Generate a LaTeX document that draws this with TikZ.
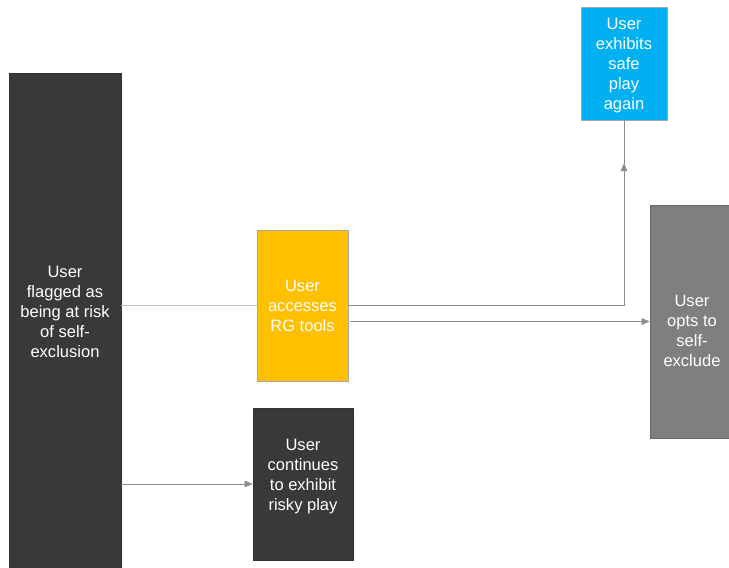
\documentclass[tikz,border=0pt]{standalone}
\usepackage{fontspec}
\setmainfont{Liberation Sans}
\usetikzlibrary{positioning,arrows.meta,decorations.markings}

\definecolor{darkbox}{HTML}{3B3838}
\definecolor{rgorange}{HTML}{FFC000}
\definecolor{safecyan}{HTML}{00B0F0}
\definecolor{optgrey}{HTML}{7F7F7F}
\definecolor{linegrey}{HTML}{8C8C8C}
\definecolor{lightline}{HTML}{BFBFBF}

\tikzset{
  box/.style={draw, line width=0.6pt, text=white, align=center,
    font=\fontsize{12.4pt}{15pt}\selectfont, inner sep=0pt},
  boxtext/.style={text=white, align=center,
    font=\fontsize{12.4pt}{15pt}\selectfont},
  arrline/.style={draw=linegrey, line width=0.75pt,
    -{Triangle[length=6pt,width=5pt]}},
}

\begin{document}
\begin{tikzpicture}[x=0.75pt,y=-0.75pt]
  \useasboundingbox (0,0) rectangle (729,568);
  \clip (0,0) rectangle (729,568);
  % flagged
  \node[box, fill=darkbox, draw=black!80, minimum width=84pt, minimum height=410pt,
    label={[boxtext, yshift=26pt]center:User\\flagged as\\being at risk\\of self-\\exclusion}]
    (flag) at (65,346.5) {};
  % RG tools
  \node[box, fill=rgorange, draw=black!35, minimum width=68.25pt, minimum height=113.25pt]
    (rg) at (302.5,305.5) {User\\accesses\\RG tools};
  % risky play
  \node[box, fill=darkbox, draw=black!80, minimum width=75pt, minimum height=114pt,
    label={[boxtext, yshift=5.3pt]center:User\\continues\\to exhibit\\risky play}]
    (risky) at (303,484) {};
  % safe play
  \node[box, fill=safecyan, draw=black!35, minimum width=64.5pt, minimum height=84.75pt,
    label={[boxtext, yshift=-1.2pt]center:User\\exhibits\\safe\\play\\again}]
    (safe) at (624,63.5) {};
  % self-exclude
  \node[box, fill=optgrey, draw=black!60, minimum width=63pt, minimum height=174.75pt,
    label={[boxtext, yshift=-7.1pt]center:User\\opts to\\self-\\exclude}]
    (optout) at (692,321.5) {};
  \coordinate (bend) at (624,305);
  % connectors
  \draw[draw=lightline, line width=0.75pt] (flag.east |- bend) -- (rg.west |- bend);
  \draw[draw=linegrey, line width=0.75pt,
    postaction={decorate, decoration={markings,
      mark=at position 0.907 with {\arrow[linegrey]{Triangle[length=6pt,width=5pt]}}}}]
    (rg.east |- bend) -- (bend) -- (safe.south);
  \draw[arrline] ([xshift=1.5pt]rg.east |- optout.west) -- (optout.west);
  \draw[arrline] (flag.east |- risky.west) -- (risky.west);
\end{tikzpicture}
\end{document}
